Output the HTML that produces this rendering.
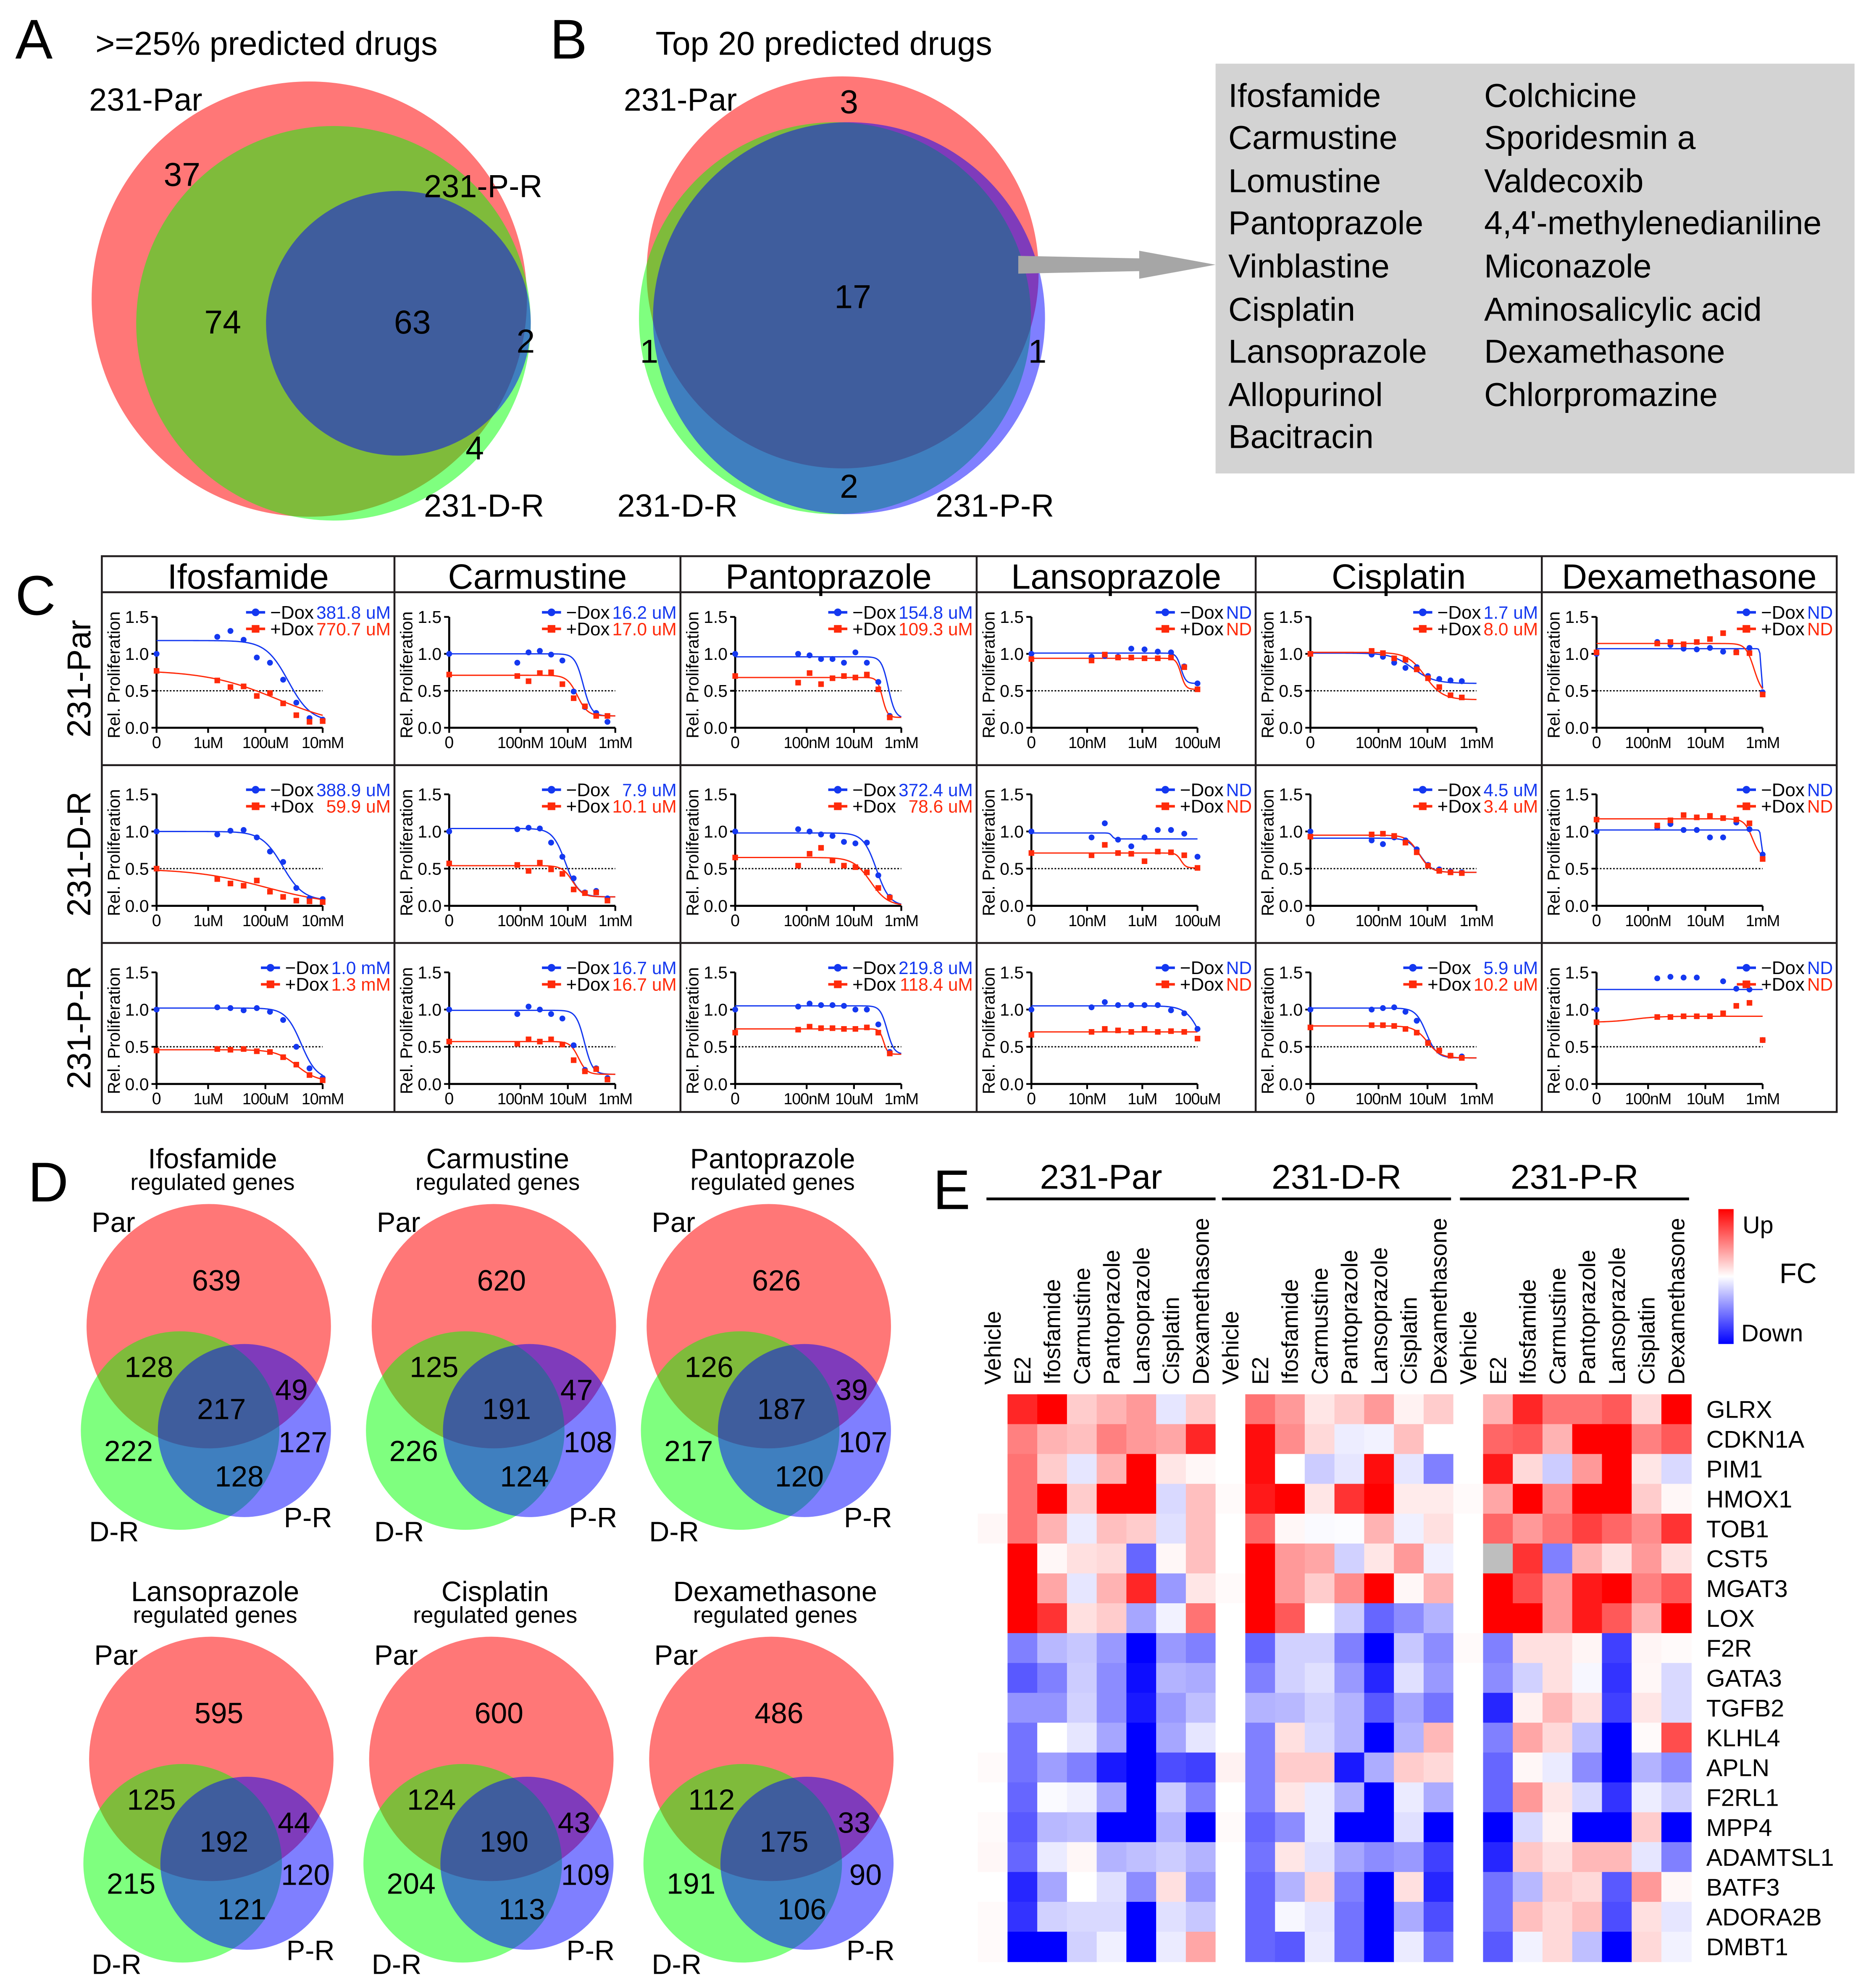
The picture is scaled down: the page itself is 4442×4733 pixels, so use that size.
<!DOCTYPE html>
<html><head><meta charset="utf-8"><title>Figure</title>
<style>
html,body{margin:0;padding:0;background:#fff;}
svg{display:block;}
text{font-family:"Liberation Sans",Arial,sans-serif;}
</style></head>
<body>
<svg id="fig" xmlns="http://www.w3.org/2000/svg" viewBox="0 0 1466 1562" width="4442" height="4733">
<defs>
<linearGradient id="fcgrad" x1="0" y1="0" x2="0" y2="1">
<stop offset="0" stop-color="#ff0000"/><stop offset="0.5" stop-color="#ffffff"/><stop offset="1" stop-color="#0000ff"/>
</linearGradient>
</defs>
<rect x="0" y="0" width="1466" height="1562" fill="#fff"/>

<!-- Panel A -->
<g>
<text x="12" y="46" font-size="44">A</text>
<text x="75" y="43" font-size="26">&gt;=25% predicted drugs</text>
<circle cx="243" cy="235" r="171" fill="#ff7777"/>
<circle cx="262" cy="254" r="155" fill="rgba(0,255,0,0.5)"/>
<circle cx="313" cy="254" r="104" fill="rgba(0,0,255,0.5)"/>
<text x="70" y="87" font-size="25">231-Par</text>
<text x="333" y="155" font-size="25">231-P-R</text>
<text x="333" y="406" font-size="25">231-D-R</text>
<text x="143" y="146" font-size="26" text-anchor="middle">37</text>
<text x="175" y="262" font-size="26" text-anchor="middle">74</text>
<text x="324" y="262" font-size="26" text-anchor="middle">63</text>
<text x="413" y="277" font-size="26" text-anchor="middle">2</text>
<text x="373" y="361" font-size="26" text-anchor="middle">4</text>
</g>

<!-- Panel B -->
<g>
<text x="432" y="46" font-size="44">B</text>
<text x="515" y="43" font-size="26">Top 20 predicted drugs</text>
<circle cx="662" cy="214" r="154" fill="#ff7777"/>
<circle cx="656" cy="250" r="154" fill="rgba(0,255,0,0.5)"/>
<circle cx="667" cy="250" r="154" fill="rgba(0,0,255,0.5)"/>
<text x="490" y="87" font-size="25">231-Par</text>
<text x="485" y="406" font-size="25">231-D-R</text>
<text x="735" y="406" font-size="25">231-P-R</text>
<text x="667" y="89" font-size="26" text-anchor="middle">3</text>
<text x="670" y="242" font-size="26" text-anchor="middle">17</text>
<text x="510" y="285" font-size="26" text-anchor="middle">1</text>
<text x="815" y="285" font-size="26" text-anchor="middle">1</text>
<text x="667" y="391" font-size="26" text-anchor="middle">2</text>
<polygon points="800,201 895,203 895,197 955,208 895,219 895,213 800,215" fill="#a6a6a6"/>
<rect x="955" y="50" width="502" height="322" fill="#d3d3d3"/>
<g font-size="26">
<text x="965" y="84">Ifosfamide</text>
<text x="965" y="117">Carmustine</text>
<text x="965" y="151">Lomustine</text>
<text x="965" y="184">Pantoprazole</text>
<text x="965" y="218">Vinblastine</text>
<text x="965" y="252">Cisplatin</text>
<text x="965" y="285">Lansoprazole</text>
<text x="965" y="319">Allopurinol</text>
<text x="965" y="352">Bacitracin</text>
<text x="1166" y="84">Colchicine</text>
<text x="1166" y="117">Sporidesmin a</text>
<text x="1166" y="151">Valdecoxib</text>
<text x="1166" y="184">4,4'-methylenedianiline</text>
<text x="1166" y="218">Miconazole</text>
<text x="1166" y="252">Aminosalicylic acid</text>
<text x="1166" y="285">Dexamethasone</text>
<text x="1166" y="319">Chlorpromazine</text>
</g>
</g>

<g id="panelC"></g>
<g id="panelD"></g>
<g id="panelE"></g>
</svg>

<script>
// ---------- Panel C data ----------
const drugNames = ['Ifosfamide','Carmustine','Pantoprazole','Lansoprazole','Cisplatin','Dexamethasone'];
const cellLines = ['231-Par','231-D-R','231-P-R'];
const axisLo = [-7.8,-10,-10.02,-10.02,-9.78,-8.8];
const axisHi = [-2,-3,-3,-4,-3,-3];
const tickLabels = [['1uM','100uM','10mM'],['100nM','10uM','1mM'],['100nM','10uM','1mM'],['10nM','1uM','100uM'],['100nM','10uM','1mM'],['100nM','10uM','1mM']];
const tickLogs = [[-6,-4,-2],[-7,-5,-3],[-7,-5,-3],[-8,-6,-4],[-7,-5,-3],[-7,-5,-3]];
const concStart = [-5.68,-7.13,-7.36,-7.84,-7.28,-6.68];
const concStep = [0.46,0.475,0.484,0.48,0.46,0.46];
const blueVals = [
 [[1.0,1.23,1.31,1.19,0.95,0.88,0.65,0.34,0.13,0.11],[1.0,0.96,1.01,1.02,0.92,0.73,0.59,0.24,0.10,0.09],[1.0,1.03,1.02,0.99,1.02,0.97,0.86,0.50,0.21,0.08]],
 [[1.0,0.88,1.02,1.04,0.99,0.91,0.49,0.28,0.20,0.08],[1.0,1.03,1.05,1.04,0.85,0.66,0.37,0.18,0.20,0.10],[1.0,0.94,1.04,1.0,0.94,0.88,0.52,0.19,0.21,0.08]],
 [[1.0,1.0,0.98,0.93,0.93,0.88,1.02,0.88,0.62,0.16],[1.0,1.03,1.0,0.96,0.94,0.86,0.84,0.85,0.41,0.12],[1.0,1.04,1.08,1.06,1.06,1.05,1.0,1.0,0.80,0.43]],
 [[1.0,0.96,0.97,0.96,1.07,1.06,1.03,1.02,0.83,0.60],[1.0,0.92,1.11,0.89,0.80,0.92,1.02,1.02,0.97,0.66],[1.0,1.03,1.10,1.06,1.06,1.06,1.06,0.99,0.95,0.74]],
 [[1.0,0.99,0.96,0.88,0.81,0.82,0.70,0.66,0.64,0.63],[1.0,0.88,0.83,0.92,0.88,0.76,0.55,0.49,0.46,0.45],[1.0,1.0,1.02,1.03,0.97,0.85,0.56,0.45,0.38,0.37]],
 [[1.0,1.16,1.12,1.07,1.06,1.08,1.03,1.03,1.08,0.48],[1.0,1.05,1.10,1.02,1.02,0.92,0.92,1.12,1.03,0.69],[1.0,1.42,1.44,1.43,1.43,null,1.38,1.28,1.27,0.59]]
];
const redVals = [
 [[0.77,0.64,0.55,0.56,0.43,0.47,0.33,0.17,0.08,0.09],[0.50,0.36,0.30,0.27,0.34,0.19,0.12,0.07,0.06,0.05],[0.45,0.47,0.46,0.47,0.44,0.43,0.36,0.26,0.12,0.05]],
 [[0.72,0.70,0.63,0.74,0.75,0.59,0.40,0.29,0.16,0.16],[0.57,0.55,0.47,0.58,0.49,0.43,0.22,0.17,0.18,0.07],[0.57,0.54,0.60,0.57,0.60,0.53,0.32,0.17,0.20,0.06]],
 [[0.70,0.61,0.74,0.59,0.67,0.70,0.68,0.72,0.52,0.14],[0.65,0.54,0.70,0.78,0.61,0.54,0.52,0.45,0.24,0.11],[0.69,0.73,0.77,0.75,0.75,0.74,0.74,0.76,0.69,0.41]],
 [[0.93,0.91,0.99,0.95,0.95,0.94,0.94,0.95,0.82,0.52],[0.71,0.68,0.82,0.71,0.70,0.60,0.73,0.72,0.68,0.51],[0.66,0.70,0.74,0.72,0.70,0.74,0.70,0.71,0.70,0.61]],
 [[1.0,1.04,1.01,0.94,0.92,0.79,0.67,0.55,0.44,0.41],[0.93,0.96,0.97,0.94,0.85,0.72,0.54,0.47,0.45,0.44],[0.76,0.79,0.79,0.78,0.74,0.69,0.55,0.45,0.38,0.35]],
 [[1.02,1.14,1.16,1.13,1.16,1.20,1.28,1.02,1.01,0.45],[1.16,1.08,1.15,1.22,1.19,1.21,1.18,1.16,1.11,0.63],[0.83,0.90,0.90,0.91,0.91,0.91,0.95,1.05,1.09,0.59]]
];
const blueFit = [
 [[1.18,0.08,-3.2,1.1],[1.0,0.07,-3.4,1.2],[1.02,0.06,-2.75,1.6]],
 [[1.0,0.16,-4.35,2.5],[1.04,0.12,-5.1,1.6],[0.99,0.13,-4.3,2.5]],
 [[0.96,0.13,-3.55,3],[0.98,0.0,-4.05,1.56],[1.05,0.4,-3.6,3]],
 [[1.01,0.6,-4.6,5],[0.98,0.90,-7.1,10],[1.05,0.0,-3.75,1.5]],
 [[1.01,0.6,-5.6,1.0],[0.91,0.45,-5.3,1.8],[1.02,0.35,-5.05,2]],
 [[1.07,0.48,-3.05,20],[1.02,0.69,-3.05,20],[1.27,1.27,-4,1]]
];
const redFit = [
 [[0.78,0.0,-3.6,0.35],[0.5,0.0,-4.0,0.35],[0.46,0.03,-2.9,1.2]],
 [[0.71,0.16,-4.6,2.0],[0.54,0.12,-4.8,2],[0.57,0.13,-4.55,2.5]],
 [[0.68,0.14,-3.8,4],[0.65,0.0,-4.3,1.2],[0.74,0.4,-3.75,5]],
 [[0.94,0.52,-4.6,5],[0.71,0.51,-4.6,5],[0.70,0.70,-4,1]],
 [[1.02,0.38,-5.1,1.2],[0.95,0.45,-5.35,1.8],[0.78,0.35,-5.0,1.6]],
 [[1.14,0.45,-3.3,3],[1.17,0.63,-3.35,3],[0.83,0.91,-7.5,1]]
];
const blueIC = [['381.8 uM','388.9 uM','1.0 mM'],['16.2 uM','7.9 uM','16.7 uM'],['154.8 uM','372.4 uM','219.8 uM'],['ND','ND','ND'],['1.7 uM','4.5 uM','5.9 uM'],['ND','ND','ND']];
const redIC = [['770.7 uM','59.9 uM','1.3 mM'],['17.0 uM','10.1 uM','16.7 uM'],['109.3 uM','78.6 uM','118.4 uM'],['ND','ND','ND'],['8.0 uM','3.4 uM','10.2 uM'],['ND','ND','ND']];
const yTicks = [0,0.5,1.0,1.5];
const yTickLabels = ['0.0','0.5','1.0','1.5'];

// ---------- Panel D data ----------
const vennDrugs = ['Ifosfamide','Carmustine','Pantoprazole','Lansoprazole','Cisplatin','Dexamethasone'];
const parOnly = [639,620,626,595,600,486];
const parDr = [128,125,126,125,124,112];
const allThree = [217,191,187,192,190,175];
const parPr = [49,47,39,44,43,33];
const drOnly = [222,226,217,215,204,191];
const prOnly = [127,108,107,120,109,90];
const drPr = [128,124,120,121,113,106];

// ---------- Panel E data ----------
const genes = ['GLRX','CDKN1A','PIM1','HMOX1','TOB1','CST5','MGAT3','LOX','F2R','GATA3','TGFB2','KLHL4','APLN','F2RL1','MPP4','ADAMTSL1','BATF3','ADORA2B','DMBT1'];
const conditions = ['Vehicle','E2','Ifosfamide','Carmustine','Pantoprazole','Lansoprazole','Cisplatin','Dexamethasone'];
const groups = ['231-Par','231-D-R','231-P-R'];
const fc = [
 [0,.85,1,.2,.3,.4,-.1,.2, 0,.55,.4,.1,.2,.4,.05,.2, 0,.3,.85,.55,.55,.65,.15,1],
 [0,.5,.3,.25,.5,.4,.35,.85, 0,.95,.45,.15,-.07,-.05,.25,0, 0,.6,.65,.3,1,1,.5,.65],
 [0,.55,.2,-.1,.3,1,.1,.03, 0,.95,0,-.2,-.1,.95,-.1,-.5, 0,.9,.15,-.2,.4,1,.1,-.15],
 [0,.55,1,.2,1,1,-.15,.25, .02,.9,1,.1,.8,1,.08,.08, .02,.35,1,.45,1,1,.2,.03],
 [.03,.55,.3,-.08,.25,.2,-.12,.25, 0,.6,.03,-.02,-.01,.3,-.06,.12, 0,.6,.4,.55,.75,.6,.45,.8],
 [0,1,.03,.12,.15,-.6,.03,.25, 0,1,.4,.35,-.18,.1,.4,-.06, 0,null,.8,-.5,.3,.12,.4,.12],
 [0,1,.35,-.1,.3,.85,-.4,.1, .02,1,.4,.2,.45,1,.03,.3, 0,1,.7,.4,.9,1,.5,.65],
 [0,1,.8,.12,.2,-.35,-.05,.55, 0,1,.65,0,-.2,-.6,-.45,-.3, 0,1,1,.4,.9,.65,.3,1],
 [0,-.5,-.28,-.22,-.4,-1,-.4,-.5, 0,-.6,-.18,-.18,-.5,-1,-.22,-.45, .02,-.5,.12,.12,.04,-.75,.04,.02],
 [0,-.65,-.5,-.2,-.45,-.95,-.3,-.33, 0,-.5,-.18,-.12,-.4,-.85,-.12,-.4, 0,-.45,-.18,.12,-.03,-.8,.03,-.15],
 [0,-.42,-.42,-.18,-.45,-.9,-.4,-.25, 0,-.3,-.28,-.18,-.3,-.65,-.35,-.55, 0,-.85,.06,.28,.12,-.75,.1,-.15],
 [0,-.55,0,-.1,-.35,-1,-.35,-.1, 0,-.5,.12,-.15,-.3,-1,-.3,.28, 0,-.5,.35,.15,-.25,-1,.02,.7],
 [.02,-.55,-.38,-.5,-.9,-1,-.7,-.75, .05,-.5,.2,.2,-.9,-.32,.2,.15, 0,-.6,.03,-.08,-.45,-1,-.3,-.45],
 [0,-.6,-.02,-.06,-.35,-1,-.2,-.5, 0,-.5,.1,-.08,-.3,-1,-.08,-.33, 0,-.6,.4,.1,-.15,-.8,-.07,-.2],
 [.02,-.65,-.28,-.25,-1,-1,-.3,-1, .02,-.6,-.45,-.08,-1,-1,-.12,-1, 0,-1,-.15,.05,-1,-1,.2,-1],
 [.03,-.6,-.08,.03,-.3,-.25,-.2,-.3, 0,-.55,.1,-.12,-.35,-.45,-.4,-.75, 0,-.85,.22,.12,.28,.28,-.1,-.5],
 [0,-.85,-.35,0,-.12,-.45,.12,-.4, 0,-.6,-.3,.15,-.5,-1,.12,-.85, 0,-.55,-.28,.2,.15,-.65,.4,.03],
 [.02,-.8,-.18,-.15,-.15,-1,-.12,-.22, 0,-.6,-.03,-.1,-.55,-1,-.33,-.7, 0,-.55,.25,.15,.25,-.7,.12,-.1],
 [.02,-1,-1,-.18,-.06,-1,-.08,.35, 0,-.6,-.65,-.08,-.55,-1,-.08,-.55, 0,-.65,-.05,.15,-.25,-1,.15,-.05]
];

const NS = 'http://www.w3.org/2000/svg';
function mk(tag, attrs, parent){
  const e = document.createElementNS(NS, tag);
  for (const k in attrs) e.setAttribute(k, attrs[k]);
  parent.appendChild(e);
  return e;
}
function txt(str, attrs, parent){
  const e = mk('text', attrs, parent);
  e.textContent = str;
  return e;
}
const BLUE = '#1438f0', RED = '#ff2a0a';

// ================= Panel C =================
(function(){
  const g = document.getElementById('panelC');
  const colLefts = [80,309.9,534.6,767.3,986.5,1211.3,1443];
  const rowLines = [437,465.3,601.2,740.9,873.7];
  const yTop15 = [484.7,624.1,764.0];
  const yZero = [571.8,711.7,851.7];
  const W = 130.5;

  const letter = txt('C', {x:12, y:483, 'font-size':44}, g);
  
  

  const frame = mk('rect', {x:80, y:437, width:1363, height:436.7, fill:'none', stroke:'#231f20', 'stroke-width':1.5}, g);
  
  
  for (let c=1;c<6;c++){
    const l = mk('line',{x1:colLefts[c],x2:colLefts[c],y1:437,y2:873.7,stroke:'#231f20','stroke-width':1.5},g);
    
    
  }
  for (let r=1;r<4;r++){
    const l = mk('line',{x1:80,x2:1443,y1:rowLines[r],y2:rowLines[r],stroke:'#231f20','stroke-width':1.5},g);
    
    
  }
  for (let r=0;r<3;r++){
    const cy = (rowLines[r+1]+rowLines[r+2])/2;
    const t = txt(cellLines[r], {x:0,y:0,'font-size':26,'text-anchor':'middle',transform:`translate(71,${cy}) rotate(-90)`}, g);
    
    
  }

  for (let d=0; d<6; d++){
    const cl = colLefts[d], cr = colLefts[d+1];
    const tt = txt(drugNames[d], {x:(cl+cr)/2, y:462.5, 'font-size':27.5, 'text-anchor':'middle'}, g);
    
    

    for (let r=0; r<3; r++){
      const pg = mk('g', {}, g);
      
      
      const x0 = cl+43, x1 = x0+W;
      const y0 = yZero[r], y15 = yTop15[r];
      const sy = v => y0 - v/1.5*(y0-y15);
      const sx = lg => x0 + (lg-axisLo[d])/(axisHi[d]-axisLo[d])*W;
      const ptX = i => i===0 ? x0 : sx(concStart[d]+(i-1)*concStep[d]);

      const ya = mk('line',{x1:x0,x2:x0,y1:y15,y2:y0,stroke:'#000','stroke-width':1.6},pg);
      
      
      const xa = mk('line',{x1:x0-0.8,x2:x1,y1:y0,y2:y0,stroke:'#000','stroke-width':1.6},pg);
      
      
      yTicks.forEach((v,i)=>{
        const yy = sy(v);
        const tk = mk('line',{x1:x0-4,x2:x0,y1:yy,y2:yy,stroke:'#000','stroke-width':1.4},pg);
        
        
        const tl = txt(yTickLabels[i],{x:x0-6,y:yy+4.8,'font-size':13.5,'text-anchor':'end'},pg);
        
        
      });
      const xl0 = txt('0',{x:x0,y:y0+16,'font-size':13,'text-anchor':'middle'},pg);
      
      
      mk('line',{x1:x0,x2:x0,y1:y0,y2:y0+4,stroke:'#000','stroke-width':1.4},pg);
      tickLogs[d].forEach((lg,i)=>{
        const xx = sx(lg);
        const tk = mk('line',{x1:xx,x2:xx,y1:y0,y2:y0+4,stroke:'#000','stroke-width':1.4},pg);
        
        
        const tl = txt(tickLabels[d][i],{x:xx,y:y0+16,'font-size':12.5,'letter-spacing':'-0.4','text-anchor':'middle'},pg);
        
        
      });
      const yl = txt('Rel. Proliferation',{x:0,y:0,'font-size':13.5,'text-anchor':'middle',transform:`translate(${cl+14},${(y0+y15)/2+2}) rotate(-90)`},pg);
      
      
      const half = mk('line',{x1:x0,x2:x1,y1:sy(0.5),y2:sy(0.5),stroke:'#000','stroke-width':1,'stroke-dasharray':'1.3 1.3'},pg);
      
      

      [[blueFit,BLUE,'minus-dox'],[redFit,RED,'plus-dox']].forEach(([fit,col,nm])=>{
        const [top,bot,ec,h] = fit[d][r];
        let pts = [];
        for (let k=0;k<=120;k++){
          const lg = axisLo[d] + (axisHi[d]-axisLo[d])*k/120;
          const v = bot + (top-bot)/(1+Math.pow(10,(lg-ec)*h));
          pts.push(sx(lg).toFixed(2)+','+sy(v).toFixed(2));
        }
        const pl = mk('polyline',{points:pts.join(' '),fill:'none',stroke:col,'stroke-width':1},pg);
        
        
      });
      blueVals[d][r].forEach((v,i)=>{
        if (v===null) return;
        const c = mk('circle',{cx:ptX(i),cy:sy(v),r:2.3,fill:BLUE},pg);
        
        
      });
      redVals[d][r].forEach((v,i)=>{
        if (v===null) return;
        const s = mk('rect',{x:ptX(i)-2.2,y:sy(v)-2.2,width:4.4,height:4.4,fill:RED},pg);
        
        
      });

      const lgY1 = y15-3.6, lgY2 = y15+9.4;
      const vb = txt(blueIC[d][r],{x:cr-3,y:lgY1+5,'font-size':14,'text-anchor':'end',fill:BLUE},pg);
      
      
      const vr = txt(redIC[d][r],{x:cr-3,y:lgY2+5,'font-size':14,'text-anchor':'end',fill:RED},pg);
      
      
      let vw = 0;
      try { vw = Math.max(vb.getComputedTextLength(), vr.getComputedTextLength()); } catch(e){ vw = 50; }
      const labEnd = cr - 3 - vw - 2;
      const lb = txt('\u2212Dox',{x:labEnd,y:lgY1+5,'font-size':14.5,'text-anchor':'end'},pg);
      
      
      const lr = txt('+Dox',{x:labEnd,y:lgY2+5,'font-size':14.5,'text-anchor':'end'},pg);
      
      
      let lw = 34;
      try { lw = lb.getComputedTextLength(); } catch(e){}
      const lx1 = labEnd - lw - 4, lx0 = lx1 - 15;
      const bl = mk('line',{x1:lx0,x2:lx1,y1:lgY1,y2:lgY1,stroke:BLUE,'stroke-width':2},pg);
      
      
      mk('circle',{cx:(lx0+lx1)/2,cy:lgY1,r:3,fill:BLUE},pg);
      const rl = mk('line',{x1:lx0,x2:lx1,y1:lgY2,y2:lgY2,stroke:RED,'stroke-width':2},pg);
      
      
      mk('rect',{x:(lx0+lx1)/2-3,y:lgY2-3,width:6,height:6,fill:RED},pg);
    }
  }
})();

// ================= Panel D =================
(function(){
  const g = document.getElementById('panelD');
  const L = txt('D',{x:22,y:944,'font-size':44},g);
  
  
  const offs = [[0,0],[224,0],[440,0],[2,340],[222,340],[442,340]];
  for (let i=0;i<6;i++){
    const [ox,oy] = offs[i];
    const vg = mk('g',{transform:`translate(${ox},${oy})`},g);
    
    
    const t1 = txt(vennDrugs[i],{x:167,y:918,'font-size':22,'text-anchor':'middle'},vg);
    
    
    const t2 = txt('regulated genes',{x:167,y:935,'font-size':18,'text-anchor':'middle'},vg);
    
    
    const cr = mk('circle',{cx:164,cy:1042,r:96,fill:'#ff7777'},vg);
    
    
    const cgc = mk('circle',{cx:141.5,cy:1124,r:78,fill:'rgba(0,255,0,0.5)'},vg);
    
    
    const cb = mk('circle',{cx:192,cy:1124,r:68,fill:'rgba(0,0,255,0.5)'},vg);
    
    
    const lp = txt('Par',{x:72,y:968,'font-size':22},vg);
    
    
    const ld = txt('D-R',{x:70,y:1211,'font-size':22},vg);
    
    
    const lr = txt('P-R',{x:223,y:1200,'font-size':22},vg);
    
    
    const nums = [[parOnly[i],170,1006,'par-only'],[parDr[i],117,1074,'par-dr'],[allThree[i],174,1107,'all-three'],[parPr[i],229,1092,'par-pr'],[drOnly[i],101,1140,'dr-only'],[prOnly[i],238,1133,'pr-only'],[drPr[i],188,1160,'dr-pr']];
    nums.forEach(([n,x,y,nm])=>{
      const t = txt(String(n),{x:x,y:y+8,'font-size':23,'text-anchor':'middle'},vg);
      
      
    });
  }
})();

// ================= Panel E =================
(function(){
  const g = document.getElementById('panelE');
  const L = txt('E',{x:733,y:950,'font-size':44},g);
  
  
  const left = 768.2, cw = 23.35, top = 1095.5, rh = 23.46;
  const color = v => {
    if (v===null) return '#bebebe';
    v = Math.max(-1,Math.min(1,v));
    if (v>=0){ const c=Math.round(255*(1-v)); return `rgb(255,${c},${c})`; }
    const c=Math.round(255*(1+v)); return `rgb(${c},${c},255)`;
  };
  const gx = [[775,955],[960,1140],[1147,1327]];
  groups.forEach((nm,k)=>{
    const t = txt(nm,{x:(gx[k][0]+gx[k][1])/2,y:934,'font-size':27,'text-anchor':'middle'},g);
    
    
    const l = mk('line',{x1:gx[k][0],x2:gx[k][1],y1:942,y2:942,stroke:'#000','stroke-width':2.2},g);
    
    
  });
  for (let c=0;c<24;c++){
    const cx = left + (c+0.5)*cw;
    const t = txt(conditions[c%8],{x:0,y:0,'font-size':18,transform:`translate(${cx+6.3},1088) rotate(-90)`},g);
    
    
  }
  fc.forEach((row,r)=>{
    row.forEach((v,c)=>{
      const rc = mk('rect',{x:(left+c*cw).toFixed(2),y:(top+r*rh).toFixed(2),width:cw+0.4,height:rh+0.4,fill:color(v)},g);
      
      
    });
    const gt = txt(genes[r],{x:1340.5,y:top+(r+0.5)*rh+6.8,'font-size':19},g);
    
    
  });
  const cb = mk('rect',{x:1350,y:950,width:12,height:106,fill:'url(#fcgrad)'},g);
  
  
  const up = txt('Up',{x:1369,y:969,'font-size':19},g);
  
  
  const fcl = txt('FC',{x:1398,y:1008,'font-size':22},g);
  
  
  const dn = txt('Down',{x:1368,y:1054,'font-size':19},g);
  
  
})();
</script>
</body></html>
